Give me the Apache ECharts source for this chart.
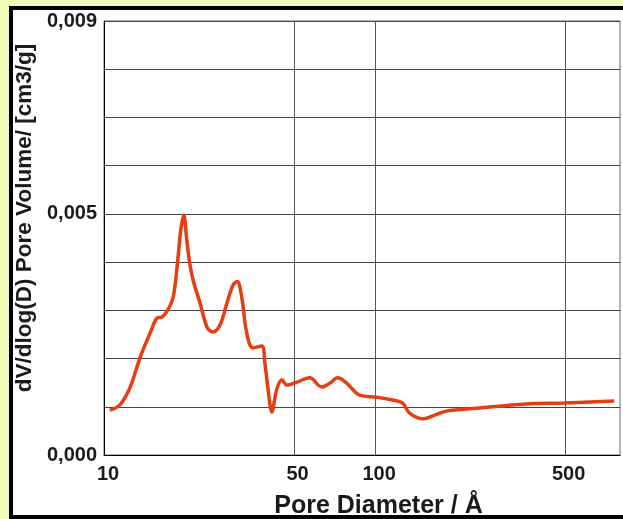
<!DOCTYPE html>
<html>
<head>
<meta charset="utf-8">
<script src="https://cdn.jsdelivr.net/npm/echarts@6/dist/echarts.min.js"></script>
<style>
  html, body { margin: 0; padding: 0; background: #F1F9B9; }
  #chart { width: 623px; height: 519px; }
</style>
</head>
<body>
<div id="chart"></div>
<script>
// Pore size distribution (BJH style): diameter in Å vs dV/dlog(D) in cm3/g
const diameters = [
  10.5, 11.45, 12.5, 13.6, 14.8, 15.7, 16.35, 17.2, 18.0, 18.6, 19.2, 19.7,
  20.2, 20.7, 21.3, 22.6, 24.0, 25.2, 26.8, 28.4, 29.9, 31.0, 32.2, 33.6,
  35.4, 38.2, 39.2, 40.3, 41.6, 43.3, 45.3, 47.2, 51.4, 57.4, 63.5, 68.0,
  72.8, 78.5, 87.7, 101, 116, 126, 134, 150, 163, 183, 237, 361, 499, 762
];
const poreVolume = [
  0.00093, 0.00104, 0.00141, 0.00203, 0.00253, 0.00284, 0.00286, 0.00301, 0.00328, 0.00390, 0.00467, 0.00497,
  0.00446, 0.00398, 0.00363, 0.00315, 0.00265, 0.00255, 0.00270, 0.00315, 0.00352, 0.00360, 0.00328, 0.00253,
  0.00222, 0.00226, 0.00191, 0.00135, 0.00089, 0.00135, 0.00156, 0.00145, 0.00151, 0.00160, 0.00141, 0.00149,
  0.00160, 0.00149, 0.00124, 0.00120, 0.00114, 0.00108, 0.00087, 0.00075, 0.00081, 0.00091, 0.00097, 0.00106, 0.00108, 0.00112
];
const xTickValues = [10, 50, 100, 500];
const xGridValues = [50, 100, 500];
const yLabelValues = [0, 0.005, 0.009];

const xMin = 10, xMax = 800;
const log10 = Math.log10;

const fontFamily = "'Liberation Sans', Arial, sans-serif";
const textColor = '#1b1b1b';

const chart = echarts.init(document.getElementById('chart'), null, { renderer: 'canvas' });

const seriesData = diameters.map((d, i) => [log10(d), poreVolume[i]]);

chart.setOption({
  backgroundColor: '#F1F9B9',
  animation: false,
  graphic: [{
    type: 'rect',
    z: -10,
    shape: { x: 11, y: 8, width: 640, height: 509 },
    style: { fill: '#ffffff', stroke: '#000000', lineWidth: 4 }
  }],
  grid: {
    left: 104, right: 3, top: 21, bottom: 64,
    outerBoundsMode: 'none',
    containLabel: false,
    show: true, borderColor: '#666', borderWidth: 1, backgroundColor: 'transparent'
  },
  xAxis: {
    type: 'value',
    min: log10(xMin),
    max: log10(xMax),
    name: 'Pore Diameter / Å',
    nameLocation: 'middle',
    nameGap: 39,
    nameTextStyle: {
      fontFamily, fontWeight: 'bold', fontSize: 25, color: textColor,
      padding: [0, 0, 0, 33]
    },
    axisLine: { show: true, lineStyle: { color: '#000', width: 1 } },
    axisTick: { show: false },
    splitLine: { show: false },
    axisLabel: {
      customValues: xTickValues.map(v => log10(v)),
      formatter: v => String(Math.round(Math.pow(10, v))),
      fontFamily, fontWeight: 'bold', fontSize: 20, color: textColor,
      margin: 9,
      padding: [0, 0, 0, 8]
    }
  },
  yAxis: {
    type: 'value',
    min: 0,
    max: 0.009,
    interval: 0.001,
    name: 'dV/dlog(D) Pore Volume/ [cm3/g]',
    nameLocation: 'middle',
    nameRotate: 90,
    nameGap: 66,
    nameTextStyle: {
      fontFamily, fontWeight: 'bold', fontSize: 22.5, color: textColor,
      padding: [0, 0, 0, 40]
    },
    axisLine: { show: true, lineStyle: { color: '#000', width: 1 } },
    axisTick: { show: false },
    splitLine: { show: true, lineStyle: { color: '#444', width: 1 } },
    axisLabel: {
      formatter: v => {
        const k = Math.round(v * 1000);
        return yLabelValues.some(t => Math.round(t * 1000) === k)
          ? (k / 1000).toFixed(3).replace('.', ',') : '';
      },
      fontFamily, fontWeight: 'bold', fontSize: 20, color: textColor,
      margin: 7
    }
  },
  series: [{
    type: 'line',
    data: seriesData,
    showSymbol: false,
    smooth: 0.35,
    lineStyle: { color: '#E63E10', width: 3.5 },
    z: 5,
    markLine: {
      silent: true,
      symbol: 'none',
      label: { show: false },
      lineStyle: { color: '#555', width: 1, type: 'solid' },
      data: xGridValues.map(v => ({ xAxis: log10(v) }))
    }
  }]
});
</script>
</body>
</html>
